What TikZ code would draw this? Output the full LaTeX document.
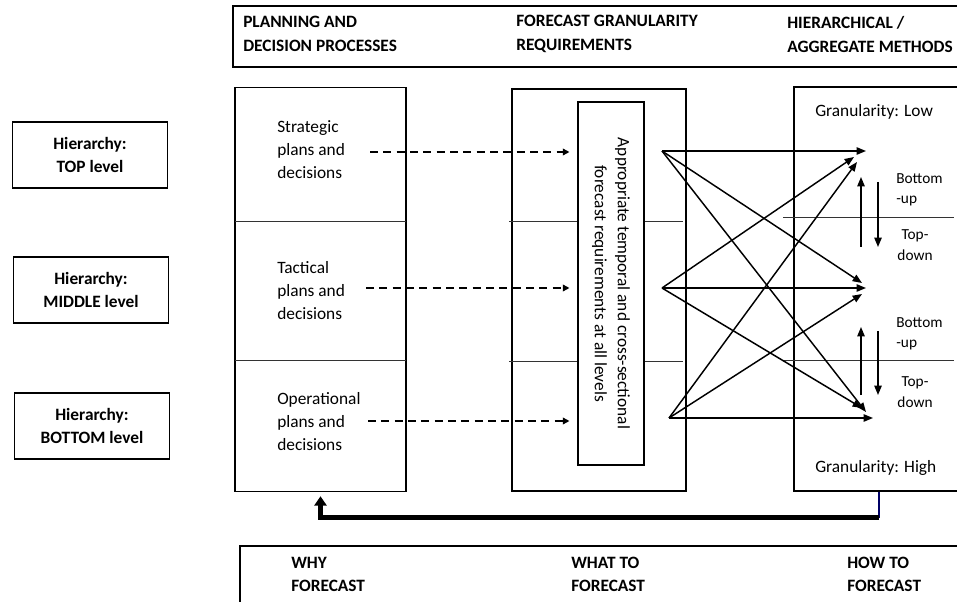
\documentclass[tikz,border=0pt]{standalone}
\usepackage{fontspec}
\setmainfont{Carlito}
\usetikzlibrary{arrows.meta}
\begin{document}
\begin{tikzpicture}[x=0.75pt,y=-0.75pt,
  txt/.style={font=\fontsize{13}{17.25}\selectfont, align=left, inner sep=0pt},
  head/.style={font=\bfseries\fontsize{13}{18}\selectfont, align=left, inner sep=0pt},
  small/.style={font=\fontsize{11.5}{15.4}\selectfont, inner sep=0pt},
  levelbox/.style={draw, line width=0.8pt, minimum width=116pt, minimum height=49.5pt,
    align=center, font=\bfseries\fontsize{13}{17.25}\selectfont},
  column/.style={draw, line width=1.1pt, minimum width=#1, minimum height=303pt},
  divider/.style={line width=0.7pt, draw=black!80},
  dasharrow/.style={line width=1.1pt, dash pattern=on 6pt off 4pt, -{Triangle[length=5pt,width=5pt]}},
  crossarrow/.style={line width=1.1pt, -{Triangle[length=7pt,width=5.5pt]}}]
\useasboundingbox (0,0) rectangle (957,602);
\clip (0,0) rectangle (957,602);

% Drawing header box
\draw [line width=0.9pt] (233,6) rectangle (975,67);%
\node [head, anchor=west] (hplan) at (243,34) {PLANNING AND\\DECISION PROCESSES};%
\node [head, anchor=west] (hgran) at (516,34) {FORECAST GRANULARITY\\REQUIREMENTS};%
\node [head, anchor=west] (hmeth) at (787,34) {HIERARCHICAL /\\AGGREGATE METHODS};%

% Marking hierarchy levels
\node [levelbox] (toplvl) at (90,155) {Hierarchy:\\TOP level};%
\node [levelbox] (midlvl) at (91,290) {Hierarchy:\\MIDDLE level};%
\node [levelbox] (botlvl) at (92,426) {Hierarchy:\\BOTTOM level};%

% Drawing the three columns
\node [column=128.25pt] (plan) at (320.5,289.5) {};%
\node [column=130.5pt, minimum height=301.5pt] (req) at (599,290) {};%
\node [column=127.5pt] (meth) at (879,289) {};%

% Drawing dividers
\draw [divider] (235,221) -- (406,221);%
\draw [divider] (235,360) -- (406,360);%
\draw [divider] (509,221) -- (578,221);%
\draw [divider] (644,221) -- (683,221);%
\draw [divider] (509,361) -- (578,361);%
\draw [divider] (644,361) -- (683,361);%
\draw [divider] (783,217) -- (954,217);%
\draw [divider] (783,360) -- (954,360);%

% Marking requirements box
\node [draw, line width=0.8pt, rotate=-90, minimum width=272.25pt, minimum height=49.5pt,
  align=center, font=\fontsize{13}{17.25}\selectfont, fill=white] (need) at (611,283.5)
  {Appropriate temporal and cross-sectional\\forecast requirements at all levels};%

% Marking planning levels
\node [txt, anchor=west] (strat) at (277,150) {Strategic\\plans and\\decisions};%
\node [txt, anchor=west] (tact) at (277,291) {Tactical\\plans and\\decisions};%
\node [txt, anchor=west] (oper) at (277,422) {Operational\\plans and\\decisions};%

% Drawing dashed links
\coordinate (d1) at (370,152);%
\coordinate (d2) at (366,288);%
\coordinate (d3) at (368,421);%
\draw [dasharrow, shorten >=6pt] (d1) -- (d1 -| need.south);%
\draw [dasharrow, shorten >=6pt] (d2) -- (d2 -| need.south);%
\draw [dasharrow, shorten >=6pt] (d3) -- (d3 -| need.south);%

% Marking granularity
\node [txt, anchor=west] (glow) at (815,112) {Granularity: Low};%
\node [txt, anchor=west] (ghigh) at (815,468) {Granularity: High};%

% Drawing crossing arrows
\coordinate (s1) at (662,151);%
\coordinate (s2) at (662,288);%
\coordinate (s3) at (669,418);%
\coordinate (t11) at (866,151);%
\coordinate (t12) at (862,283);%
\coordinate (t13) at (866,412);%
\coordinate (t21) at (854,157);%
\coordinate (t22) at (866,288);%
\coordinate (t23) at (862,408);%
\coordinate (t31) at (857,162);%
\coordinate (t32) at (862,294);%
\coordinate (t33) at (873,418);%
\draw [crossarrow] (s1) -- (t11);%
\draw [crossarrow] (s1) -- (t12);%
\draw [crossarrow] (s1) -- (t13);%
\draw [crossarrow] (s2) -- (t21);%
\draw [crossarrow] (s2) -- (t22);%
\draw [crossarrow] (s2) -- (t23);%
\draw [crossarrow] (s3) -- (t31);%
\draw [crossarrow] (s3) -- (t32);%
\draw [crossarrow] (s3) -- (t33);%

% Drawing bottom-up and top-down arrows
\coordinate (up1) at (861,247);%
\coordinate (up1e) at (861,177);%
\coordinate (dn1) at (878,182);%
\coordinate (dn1e) at (878,247);%
\coordinate (up2) at (861,395);%
\coordinate (up2e) at (861,327);%
\coordinate (dn2) at (878,331);%
\coordinate (dn2e) at (878,395);%
\draw [crossarrow] (up1) -- (up1e);%
\draw [crossarrow] (dn1) -- (dn1e);%
\draw [crossarrow] (up2) -- (up2e);%
\draw [crossarrow] (dn2) -- (dn2e);%
\node [small, anchor=west, align=left] (bu1) at (896,190) {Bottom\\-up};%
\node [small, align=center] (td1) at (915,245) {Top-\\down};%
\node [small, anchor=west, align=left] (bu2) at (896,334) {Bottom\\-up};%
\node [small, align=center] (td2) at (915,392) {Top-\\down};%

% Drawing feedback arrow
\draw [line width=1pt, draw=blue!40!black] (meth.south) -- ++(0,26) coordinate (fb);%
\draw [line width=3.5pt, -{Triangle[length=7pt,width=9pt]}, shorten >=3pt] (fb) -| (plan.south);%

% Drawing footer box
\draw [line width=0.9pt] (240,546) rectangle (975,615);%
\node [head, font=\bfseries\fontsize{13}{17.25}\selectfont, anchor=west] (why) at (291,574.5) {WHY\\FORECAST};%
\node [head, font=\bfseries\fontsize{13}{17.25}\selectfont, anchor=west] (what) at (571,574.5) {WHAT TO\\FORECAST};%
\node [head, font=\bfseries\fontsize{13}{17.25}\selectfont, anchor=west] (how) at (847,574.5) {HOW TO\\FORECAST};%
\end{tikzpicture}
\end{document}
